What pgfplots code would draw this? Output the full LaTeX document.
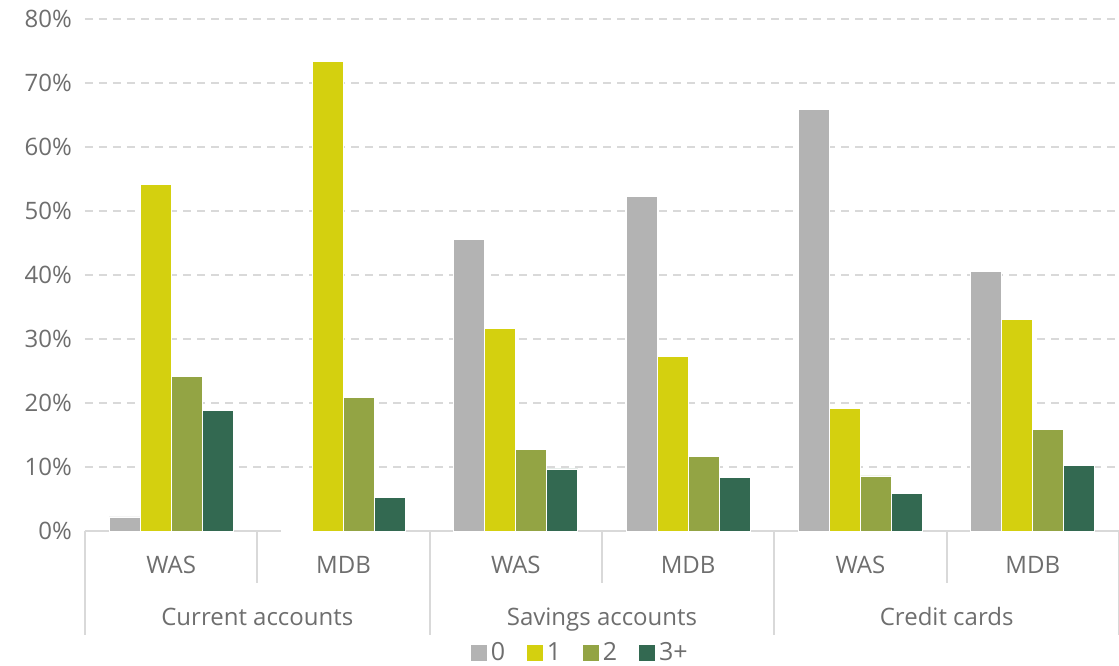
\documentclass[border=0pt]{standalone}
\usepackage{fontspec}
\setmainfont{Open Sans}
\usepackage{pgfplots}
\pgfplotsset{compat=1.18}
\definecolor{cgray}{HTML}{B3B3B3}
\definecolor{cyel}{HTML}{D4D00F}
\definecolor{colive}{HTML}{93A444}
\definecolor{cdark}{HTML}{336951}
\definecolor{ctext}{HTML}{6E6E6E}
\definecolor{cgrid}{HTML}{D9D9D9}
\begin{document}
\begin{tikzpicture}[x=1pt,y=1pt]
\begin{axis}[
  name=ax,
  scale only axis,
  width=517pt, height=256pt,
  ymin=0, ymax=80,
  xmin=-0.5, xmax=5.5,
  ybar=0pt, bar width=0.18,
  ytick={0,10,...,80},
  yticklabel={\pgfmathprintnumber{\tick}\%},
  /pgf/number format/assume math mode=true,
  xtick={0,1,2,3,4,5},
  xticklabels={WAS,MDB,WAS,MDB,WAS,MDB},
  x tick label style={yshift=-9pt},
  y tick label style={xshift=-3pt},
  major tick length=0pt,
  tick label style={font=\fontsize{12}{14}\selectfont, text=ctext},
  axis x line*=bottom,
  axis y line*=left,
  y axis line style={draw=none},
  x axis line style={cgrid, line width=1pt, -},
  ymajorgrids,
  grid style={cgrid, line width=0.8pt, dash pattern=on 4pt off 3pt},
  legend style={at={(0.479,-0.238)}, anchor=center, draw=none,
    font=\fontsize{12.5}{14}\selectfont, text=ctext,
    /tikz/every even column/.append style={column sep=9pt},
    nodes={inner xsep=1.5pt, inner ysep=1pt}},
  legend columns=4,
  legend image code/.code={\fill[#1] (0pt,-4.2pt) rectangle (8.5pt,4.2pt);},
  every axis plot/.append style={draw=white, line width=0.4pt},
  clip=false,
]
\addplot[fill=cgray] coordinates {(0,2.2) (1,0.1) (2,45.5) (3,52.3) (4,65.8) (5,40.5)};
\addplot[fill=cyel] coordinates {(0,54.2) (1,73.3) (2,31.7) (3,27.3) (4,19.2) (5,33.1)};
\addplot[fill=colive] coordinates {(0,24.2) (1,20.9) (2,12.7) (3,11.6) (4,8.6) (5,15.8)};
\addplot[fill=cdark] coordinates {(0,18.9) (1,5.3) (2,9.7) (3,8.3) (4,5.8) (5,10.2)};
\legend{0,1,2,3+}
\foreach \xx in {-0.5,1.5,3.5,5.5} {
  \edef\tmp{\noexpand\draw[cgrid, line width=1pt] (axis cs:\xx,0) -- ([yshift=-52pt]axis cs:\xx,0);}\tmp
}
\foreach \xx in {0.5,2.5,4.5} {
  \edef\tmp{\noexpand\draw[cgrid, line width=1pt] (axis cs:\xx,0) -- ([yshift=-26pt]axis cs:\xx,0);}\tmp
}
\node[text=ctext, font=\fontsize{12}{14}\selectfont, anchor=base] at ([yshift=-47.5pt]axis cs:0.5,0) {Current accounts};
\node[text=ctext, font=\fontsize{12}{14}\selectfont, anchor=base] at ([yshift=-47.5pt]axis cs:2.5,0) {Savings accounts};
\node[text=ctext, font=\fontsize{12}{14}\selectfont, anchor=base] at ([yshift=-47.5pt]axis cs:4.5,0) {Credit cards};
\end{axis}
\pgfresetboundingbox
\path[use as bounding box] ([xshift=-42.5pt,yshift=-67.5pt]ax.south west) rectangle ([yshift=9.5pt]ax.north east);
\end{tikzpicture}
\end{document}
